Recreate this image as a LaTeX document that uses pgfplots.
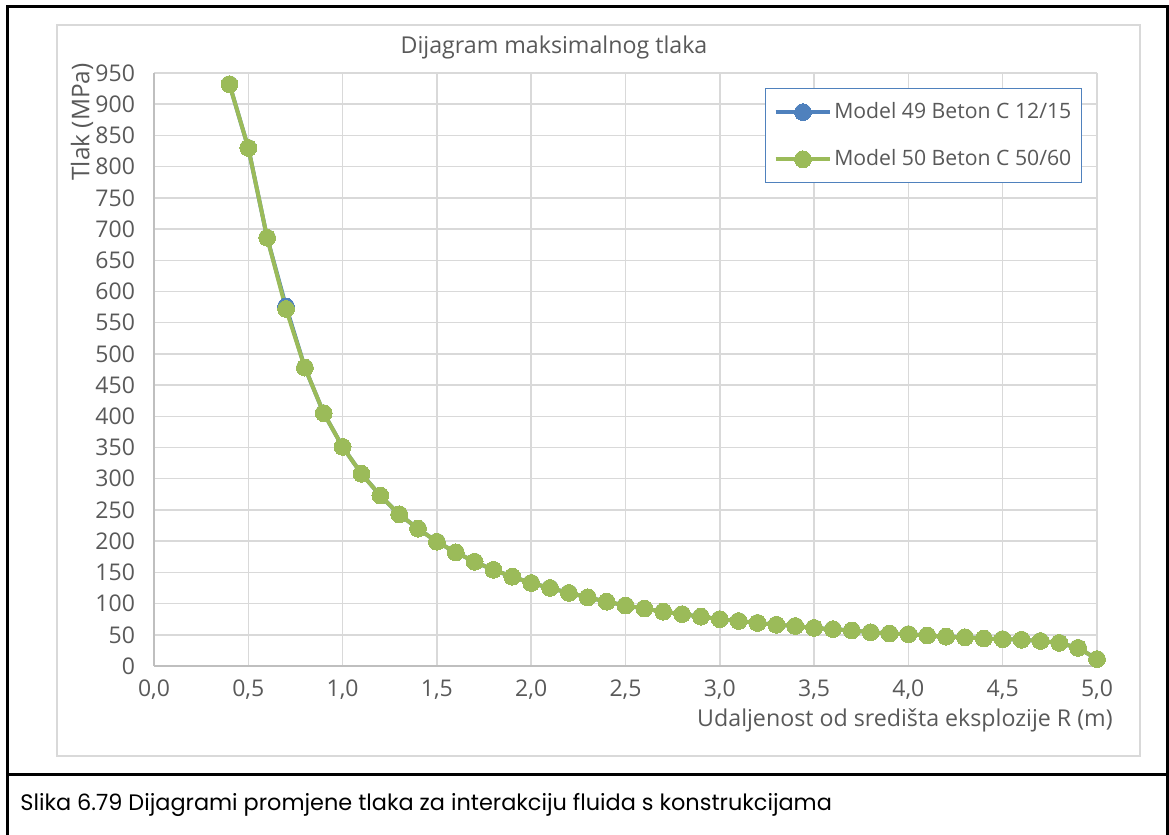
\documentclass[border=0pt]{standalone}
\usepackage{fontspec}
\setmainfont{Open Sans}
\newfontfamily\capfont{Poppins}
\usepackage{pgfplots}
\pgfplotsset{compat=1.18}
\definecolor{txtgray}{HTML}{595959}
\definecolor{gridgray}{HTML}{D9D9D9}
\definecolor{axgray}{HTML}{BFBFBF}
\definecolor{serblue}{HTML}{4F81BD}
\definecolor{sergreen}{HTML}{9BBB59}

\pgfplotstableread{
R p
0.4 932
0.5 830
0.6 686
0.7 576
0.8 478
0.9 405
1.0 351
1.1 308
1.2 273
1.3 243
1.4 220
1.5 199
1.6 182
1.7 167
1.8 154
1.9 143
2.0 133
2.1 125
2.2 117
2.3 110
2.4 103
2.5 97
2.6 92
2.7 87
2.8 83
2.9 79
3.0 75
3.1 72
3.2 69
3.3 66
3.4 64
3.5 61
3.6 59
3.7 57
3.8 54
3.9 52
4.0 51
4.1 49
4.2 47
4.3 46
4.4 44
4.5 43
4.6 42
4.7 40
4.8 37
4.9 29
5.0 11
}\modelA

\pgfplotstableread{
R p
0.4 932
0.5 830
0.6 686
0.7 572
0.8 478
0.9 405
1.0 351
1.1 308
1.2 273
1.3 243
1.4 220
1.5 199
1.6 182
1.7 167
1.8 154
1.9 143
2.0 133
2.1 125
2.2 117
2.3 110
2.4 103
2.5 97
2.6 92
2.7 87
2.8 83
2.9 79
3.0 75
3.1 72
3.2 69
3.3 66
3.4 64
3.5 61
3.6 59
3.7 57
3.8 54
3.9 52
4.0 51
4.1 49
4.2 47
4.3 46
4.4 44
4.5 43
4.6 42
4.7 40
4.8 37
4.9 29
5.0 11
}\modelB

\begin{document}
\begin{tikzpicture}
% 1 px of the reference = 0.5pt
\useasboundingbox (0,0) rectangle (584.5pt,417.5pt);
% outer frame and caption cell
\draw[line width=1.5pt] (3.5pt,-2pt) -- (3.5pt,414pt) -- (583.5pt,414pt) -- (583.5pt,-2pt);
\draw[line width=1.5pt] (3.5pt,30pt) -- (583.5pt,30pt);
\node[anchor=west,inner sep=0pt,font=\capfont\fontsize{11.2}{13}\selectfont] at (10pt,15pt)
  {Slika 6.79 Dijagrami promjene tlaka za interakciju fluida s konstrukcijama};
% chart area
\draw[gridgray,line width=0.75pt] (28.5pt,39.5pt) rectangle (570pt,405pt);

\begin{axis}[
  at={(77pt,84.5pt)}, anchor=south west,
  width=471.5pt, height=296.5pt, scale only axis,
  xmin=0, xmax=5, ymin=0, ymax=950,
  xtick={0,0.5,...,5.0},
  ytick={0,50,...,950},
  axis x line*=bottom, axis y line*=left,
  axis line style={axgray,line width=0.75pt,-},
  grid=major,
  grid style={gridgray,line width=0.75pt},
  tick style={draw=none},
  /pgf/number format/assume math mode=true,
  tick label style={font=\fontsize{11.5}{13}\selectfont,text=txtgray},
  xticklabel={\pgfmathprintnumber[fixed,fixed zerofill,precision=1,use comma]{\tick}},
  yticklabel={\pgfmathprintnumber[fixed,precision=0]{\tick}},
  xticklabel style={yshift=-3.5pt},
  yticklabel style={xshift=-6pt},
  clip=false,
  legend style={
    at={(0.648,0.9747)}, anchor=north west,
    draw=serblue, line width=0.6pt,
    font=\fontsize{10.6}{12}\selectfont, text=txtgray,
    inner xsep=4pt, inner ysep=6pt, row sep=12pt,
    nodes={inner sep=1pt},
  },
  legend cell align=left,
  legend image code/.code={
    \draw[mark repeat=2,mark phase=2] plot coordinates {(0cm,0cm) (0.48cm,0cm) (0.96cm,0cm)};
  },
]
\addplot[serblue, line width=2pt, mark=*, mark size=4.2pt, mark options={fill=serblue,draw=serblue,line width=0pt}]
  table[x=R,y=p]{\modelA};
\addlegendentry{Model 49 Beton C 12/15}
\addplot[sergreen, line width=2pt, mark=*, mark size=4.2pt, mark options={fill=sergreen,draw=sergreen,line width=0pt}]
  table[x=R,y=p]{\modelB};
\addlegendentry{Model 50 Beton C 50/60}
\end{axis}

\node[text=txtgray,font=\fontsize{11.6}{13}\selectfont] at (277pt,394pt) {Dijagram maksimalnog tlaka};
\node[text=txtgray,font=\fontsize{12.2}{14}\selectfont,rotate=90] at (41pt,356.5pt) {Tlak (MPa)};
\node[text=txtgray,font=\fontsize{11.6}{13}\selectfont,anchor=east,inner sep=0pt] at (556.5pt,57.5pt) {Udaljenost od središta eksplozije R (m)};
\end{tikzpicture}
\end{document}
